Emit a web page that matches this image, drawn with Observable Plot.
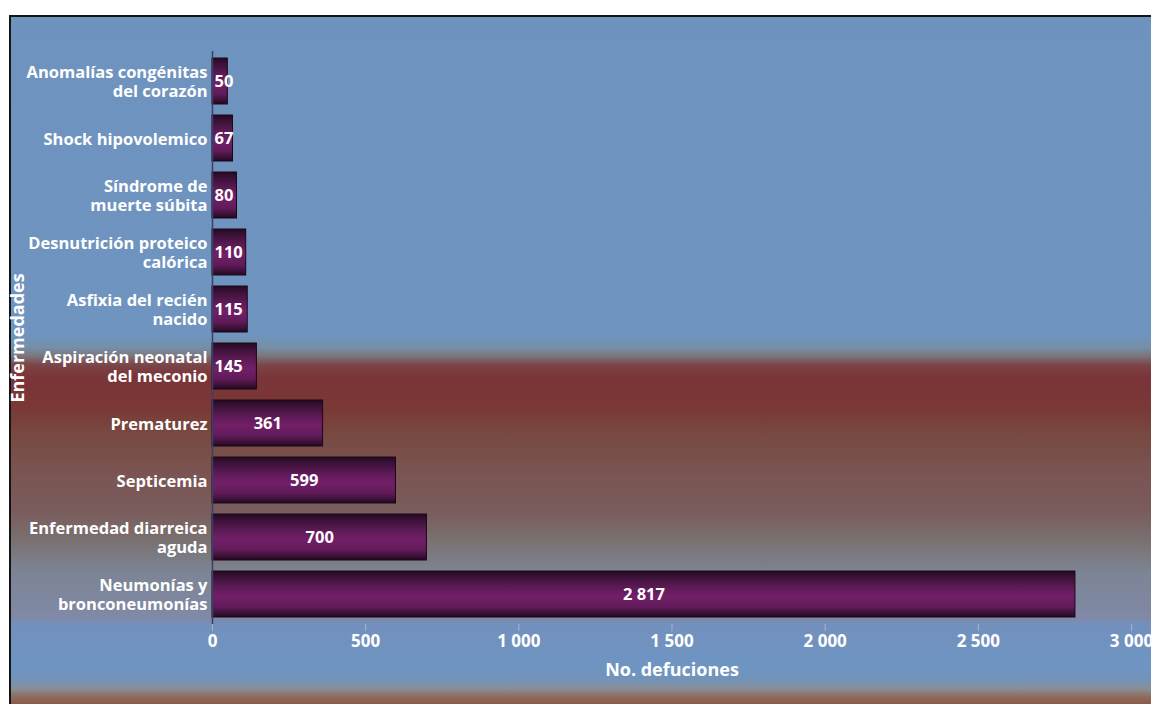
<!DOCTYPE html>
<html>
<head>
<meta charset="utf-8">
<script src="https://cdn.jsdelivr.net/npm/d3@7"></script>
<script src="https://cdn.jsdelivr.net/npm/@observablehq/plot@0.6"></script>
<style>
  html, body { margin: 0; padding: 0; background: #ffffff; width: 1151px; height: 704px; overflow: hidden; }
  #frame {
    position: absolute; left: 9px; top: 15px; width: 1142px; height: 689px;
    border-top: 2px solid #141414; border-left: 2px solid #141414; box-sizing: border-box;
    background: linear-gradient(to bottom,
      #6f93bf 0px, #6f94bf 318px, #7590a8 330px, #7a7a82 338px, #7b4548 348px,
      #7b3438 360px, #7a3836 390px, #784840 415px, #7a5452 455px, #7a5c5c 495px,
      #7a7272 525px, #7c8494 555px, #8089a6 600px, #7390bd 608px, #6e95c2 650px,
      #7293ba 662px, #8a8e96 672px, #8c6a5a 680px, #8a5545 689px);
  }
  #chart { position: absolute; left: 0; top: 0; }
</style>
</head>
<body>
<div id="frame"></div>
<div id="chart"></div>
<script>
const categories = [
  "Anomalías congénitas\ndel corazón",
  "Shock hipovolemico",
  "Síndrome de\nmuerte súbita",
  "Desnutrición proteico\ncalórica",
  "Asfixia del recién\nnacido",
  "Aspiración neonatal\ndel meconio",
  "Prematurez",
  "Septicemia",
  "Enfermedad diarreica\naguda",
  "Neumonías y\nbronconeumonías"
];
const values = [50, 67, 80, 110, 115, 145, 361, 599, 700, 2817];
const xTicks = [0, 500, 1000, 1500, 2000, 2500, 3000];
const xLabel = "No. defuciones";
const yLabel = "Enfermedades";

const data = categories.map((c, i) => ({cause: c, n: values[i]}));
const fmt = d => d3.format(",")(d).replace(/,/g, " ");

const chart = Plot.plot({
  width: 1151,
  height: 704,
  marginLeft: 212,
  marginRight: 20,
  marginTop: 51,
  marginBottom: 80,
  style: {background: "transparent", fontFamily: "'Open Sans', 'Noto Sans', sans-serif", fontSize: "16px", fontWeight: "bold", color: "white"},
  x: {domain: [0, 3000]},
  y: {domain: categories, paddingInner: 0.2, paddingOuter: 0.09},
  marks: [
    Plot.barX(data, {x: "n", y: "cause", fill: "url(#barGrad)", stroke: "#1c0819", strokeWidth: 1}),
    Plot.ruleX([0], {stroke: "#3b3f63", strokeWidth: 1.5}),
    Plot.text(data.filter(d => d.n < 300), {x: 0, y: "cause", text: d => fmt(d.n), textAnchor: "start", dx: 2, fill: "white", fontSize: 16.5, fontWeight: "bold"}),
    Plot.text(data.filter(d => d.n >= 300), {x: d => d.n / 2, y: "cause", text: d => fmt(d.n), textAnchor: "middle", fill: "white", fontSize: 16.5, fontWeight: "bold"}),
    Plot.axisY({tickSize: 0, tickPadding: 5, fill: "white", fontSize: 16.5, fontWeight: "bold", lineHeight: 1.15,
      label: yLabel, labelAnchor: "center", labelArrow: "none", labelOffset: 201}),
    Plot.axisX({ticks: xTicks, tickFormat: fmt, tickSize: 7, tickPadding: 3, stroke: "#a4b4cf", fill: "white", fontSize: 17, fontWeight: "bold",
      label: xLabel, labelAnchor: "center", labelArrow: "none", labelOffset: 51})
  ]
});

const defs = d3.select(chart).insert("defs", ":first-child");
const g = defs.append("linearGradient").attr("id", "barGrad").attr("x1", 0).attr("y1", 0).attr("x2", 0).attr("y2", 1);
[["0%", "#240a22"], ["12%", "#3a1136"], ["35%", "#5c1a55"], ["55%", "#721f68"], ["78%", "#611b59"], ["92%", "#3a1136"], ["100%", "#220920"]]
  .forEach(([o, c]) => g.append("stop").attr("offset", o).attr("stop-color", c));

// enlarge the axis titles to match the reference
d3.select(chart).selectAll("[aria-label='y-axis label'] text, [aria-label='x-axis label'] text").attr("font-size", 18);

document.getElementById("chart").appendChild(chart);
</script>
</body>
</html>
